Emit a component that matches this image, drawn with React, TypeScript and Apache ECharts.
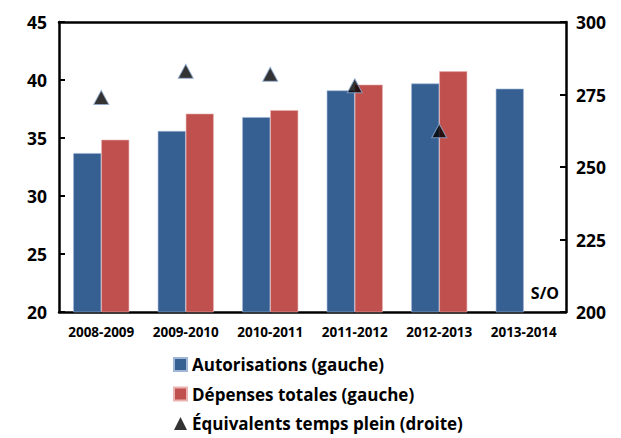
import React, { useEffect, useRef } from "react";
import * as echarts from "echarts";

const categories = ["2008-2009", "2009-2010", "2010-2011", "2011-2012", "2012-2013", "2013-2014"];
const autorisations = [33.7, 35.6, 36.8, 39.1, 39.7, 39.25];
const depenses = [34.85, 37.1, 37.4, 39.6, 40.75, null];
const etp = [274, 283, 282, 278, 262.5, null];
const leftTicks = [20, 25, 30, 35, 40, 45];
const rightTicks = [200, 225, 250, 275, 300];

const FONT = "'Open Sans', Lato, sans-serif";

export default function App() {
  const ref = useRef<HTMLDivElement>(null);
  useEffect(() => {
    const chart = echarts.init(ref.current!, undefined, { renderer: "svg" });
    chart.setOption({
      animation: false,
      textStyle: { fontFamily: FONT },
      grid: { left: 59, right: 55, top: 22, bottom: 126 },
      legend: {
        orient: "vertical",
        left: 168,
        top: 356,
        padding: [0, 5, 0, 5],
        itemGap: 12.5,
        itemWidth: 13,
        itemHeight: 13,
        textStyle: { fontFamily: FONT, fontWeight: "bold", fontSize: 17, color: "#000" },
        data: [
          { name: "Autorisations (gauche)", icon: "rect" },
          { name: "Dépenses totales (gauche)", icon: "rect" },
          { name: "Équivalents temps plein (droite)", icon: "triangle", itemStyle: { borderWidth: 0 } },
        ],
      },
      xAxis: [
        {
          type: "category",
          data: categories,
          axisLine: { lineStyle: { color: "#000", width: 2.5 } },
          axisTick: { show: false },
          axisLabel: { interval: 0, fontFamily: FONT, fontWeight: "bold", fontSize: 13.5, color: "#000", margin: 13 },
        },
        {
          type: "category",
          position: "top",
          data: categories,
          axisLine: { show: true, lineStyle: { color: "#000", width: 2.5 } },
          axisTick: { show: false },
          axisLabel: { show: false },
        },
      ],
      yAxis: [
        {
          type: "value",
          min: leftTicks[0],
          max: leftTicks[leftTicks.length - 1],
          interval: 5,
          splitLine: { show: false },
          axisLine: { show: true, lineStyle: { color: "#000", width: 2.5 } },
          axisTick: { show: true, inside: true, length: 6, lineStyle: { color: "#000", width: 2 } },
          axisLabel: { fontFamily: FONT, fontWeight: "bold", fontSize: 17.5, color: "#000", margin: 12 },
        },
        {
          type: "value",
          min: rightTicks[0],
          max: rightTicks[rightTicks.length - 1],
          interval: 25,
          splitLine: { show: false },
          axisLine: { show: true, lineStyle: { color: "#000", width: 2.5 } },
          axisTick: { show: true, inside: true, length: 6, lineStyle: { color: "#000", width: 2 } },
          axisLabel: { fontFamily: FONT, fontWeight: "bold", fontSize: 17.5, color: "#000", margin: 10 },
        },
      ],
      series: [
        {
          name: "Autorisations (gauche)",
          type: "bar",
          data: autorisations,
          barWidth: 28,
          barGap: "0%",
          itemStyle: { color: "#376092", borderColor: "#9fb6d6", borderWidth: 0.6 },
        },
        {
          name: "Dépenses totales (gauche)",
          type: "bar",
          data: depenses,
          barWidth: 28,
          barGap: "0%",
          itemStyle: { color: "#C0504D", borderColor: "#e8b3b1", borderWidth: 0.6 },
        },
        {
          name: "Équivalents temps plein (droite)",
          type: "scatter",
          yAxisIndex: 1,
          data: etp,
          symbol: "triangle",
          symbolSize: [15, 14],
          itemStyle: { color: "#000", borderColor: "#8eaad2", borderWidth: 1 },
          z: 5,
        },
      ],
      graphic: [
        {
          type: "text",
          right: 62,
          top: 285,
          style: { text: "S/O", fontFamily: FONT, fontWeight: "bold", fontSize: 16, fill: "#000" },
        },
      ],
    });
    return () => chart.dispose();
  }, []);
  return <div ref={ref} style={{ width: 621, height: 438, position: "absolute", left: 0, top: 0 }} />;
}
